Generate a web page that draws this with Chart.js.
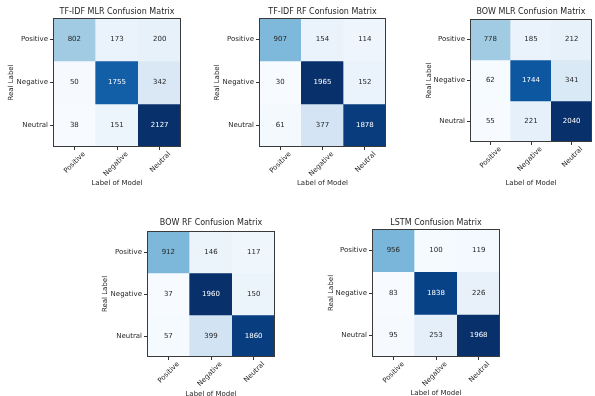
<!DOCTYPE html>
<html>
<head>
<meta charset="utf-8">
<script src="https://cdn.jsdelivr.net/npm/chart.js@4.4.1/dist/chart.umd.min.js"></script>
<style>
  html, body { margin: 0; padding: 0; background: #fff; overflow: hidden; width: 595px; height: 396px; position: relative; }
  canvas { position: absolute; }
</style>
</head>
<body>
<script>
// Class names shared by both axes
const classLabels = ['Positive', 'Negative', 'Neutral'];
const xAxisTitle = 'Label of Model';
const yAxisTitle = 'Real Label';

// Confusion matrices: rows = real label, columns = predicted label
const tfidfMlr = [[802, 173, 200], [50, 1755, 342], [38, 151, 2127]];
const tfidfRf  = [[907, 154, 114], [30, 1965, 152], [61, 377, 1878]];
const bowMlr   = [[778, 185, 212], [62, 1744, 341], [55, 221, 2040]];
const bowRf    = [[912, 146, 117], [37, 1960, 150], [57, 399, 1860]];
const lstm     = [[956, 100, 119], [83, 1838, 226], [95, 253, 1968]];

const panelTitles = [
  'TF-IDF MLR Confusion Matrix',
  'TF-IDF RF Confusion Matrix',
  'BOW MLR Confusion Matrix',
  'BOW RF Confusion Matrix',
  'LSTM Confusion Matrix'
];
const matrices = [tfidfMlr, tfidfRf, bowMlr, bowRf, lstm];

// Page layout of each panel: canvas rect [x, y, w, h], plot box [left, top, right, bottom],
// and the centre lines of the panel title and both axis titles.
const layout = [
  { canvas: [0, 0, 195, 200],    box: [53, 18, 181, 147],   titleY: 11.7, xTitleY: 183, yTitleX: 11 },
  { canvas: [200, 0, 195, 200],  box: [259, 18, 386, 147],  titleY: 11.7, xTitleY: 183, yTitleX: 217 },
  { canvas: [405, 0, 190, 200],  box: [470, 19, 592, 142],  titleY: 11.7, xTitleY: 183, yTitleX: 429 },
  { canvas: [80, 205, 210, 200], box: [147, 231, 275, 357], titleY: 223,  xTitleY: 394, yTitleX: 105 },
  { canvas: [300, 205, 210, 200],box: [372, 229, 500, 357], titleY: 223,  xTitleY: 393, yTitleX: 331 }
];

const FONT = '"DejaVu Sans", sans-serif';
const TEXT = '#262626';
Chart.defaults.font.family = FONT;
Chart.defaults.color = TEXT;

// matplotlib "Blues" colour map
const BLUES = [
  [247, 251, 255], [222, 235, 247], [198, 219, 239], [158, 202, 225], [107, 174, 214],
  [66, 146, 198], [33, 113, 181], [8, 81, 156], [8, 48, 107]
];
function blues(t) {
  t = Math.min(1, Math.max(0, t));
  const p = t * (BLUES.length - 1);
  const i = Math.min(BLUES.length - 2, Math.floor(p));
  const f = p - i;
  const a = BLUES[i], b = BLUES[i + 1];
  return 'rgb(' + a.map((v, k) => Math.round(v + (b[k] - v) * f)).join(',') + ')';
}

// Rotated x labels are centred on their tick: shift by half their slanted width
const measure = document.createElement('canvas').getContext('2d');
measure.font = '7px ' + FONT;
const meanLabelWidth = classLabels.reduce((s, l) => s + measure.measureText(l).width, 0) / classLabels.length;
const xLabelShift = meanLabelWidth * Math.SQRT1_2 / 2;

// Writes each count in the centre of its cell
const cellText = {
  id: 'cellText',
  afterDatasetsDraw(chart) {
    const { ctx, scales: { x, y } } = chart;
    ctx.save();
    ctx.font = '7px ' + FONT;
    ctx.textAlign = 'center';
    ctx.textBaseline = 'middle';
    chart.data.datasets.forEach((ds, r) => {
      ds.counts.forEach((v, c) => {
        ctx.fillStyle = v > ds.threshold ? '#ffffff' : TEXT;
        ctx.fillText(String(v), x.getPixelForValue(c), y.getPixelForValue(r));
      });
    });
    ctx.restore();
  }
};

// Spines on all four sides of the plot box
const frame = {
  id: 'frame',
  afterDraw(chart) {
    const { ctx, chartArea: a } = chart;
    ctx.save();
    ctx.strokeStyle = '#3a3a3a';
    ctx.lineWidth = 1;
    ctx.strokeRect(a.left + 0.5, a.top + 0.5, a.right - a.left - 1, a.bottom - a.top - 1);
    ctx.restore();
  }
};

function drawPanel(title, matrix, geo) {
  const [cx, cy, cw, ch] = geo.canvas;
  const [L, T, R, B] = geo.box;
  const canvas = document.createElement('canvas');
  canvas.width = cw;
  canvas.height = ch;
  canvas.style.left = cx + 'px';
  canvas.style.top = cy + 'px';
  document.body.appendChild(canvas);

  const flat = matrix.flat();
  const lo = Math.min(...flat), hi = Math.max(...flat);
  const threshold = hi / 2;

  // One floating-bar dataset per real-label row; each bar fills one cell
  const datasets = matrix.map((row, r) => ({
    label: classLabels[r],
    data: row.map(() => [r - 0.5, r + 0.5]),
    counts: row,
    threshold,
    backgroundColor: row.map(v => blues((v - lo) / (hi - lo))),
    borderWidth: 0,
    grouped: false,
    barPercentage: 1,
    categoryPercentage: 1
  }));

  const tickGrid = { display: true, offset: false, drawOnChartArea: false, drawTicks: true, tickLength: 3, color: '#333' };

  new Chart(canvas, {
    type: 'bar',
    data: { labels: classLabels, datasets },
    options: {
      responsive: false,
      animation: false,
      events: [],
      layout: { padding: { left: 0, top: 0, right: cw - (R - cx), bottom: 0 } },
      plugins: {
        legend: { display: false },
        tooltip: { enabled: false },
        title: {
          display: true,
          text: title,
          fullSize: false,
          color: TEXT,
          font: { size: 8, weight: 'normal' },
          padding: { top: geo.titleY - cy - 4.8, bottom: T - geo.titleY - 4.8 }
        }
      },
      scales: {
        x: {
          type: 'category',
          offset: true,
          grid: tickGrid,
          border: { display: false },
          ticks: {
            autoSkip: false, minRotation: 45, maxRotation: 45, padding: 0,
            labelOffset: xLabelShift, color: TEXT, font: { size: 7 }
          },
          title: {
            display: true, text: xAxisTitle, color: TEXT, font: { size: 7 },
            padding: { top: 0, bottom: ch - (geo.xTitleY - cy) - 4.2 }
          },
          afterFit(s) { s.height = ch - (B - cy); }
        },
        y: {
          type: 'linear',
          min: -0.5,
          max: 2.5,
          reverse: true,
          grid: tickGrid,
          border: { display: false },
          afterBuildTicks(s) { s.ticks = classLabels.map((_, i) => ({ value: i })); },
          ticks: { padding: 2, color: TEXT, font: { size: 7 }, callback: v => classLabels[v] },
          title: {
            display: true, text: yAxisTitle, color: TEXT, font: { size: 7 },
            padding: { top: geo.yTitleX - cx - 4.2, bottom: 0 }
          },
          afterFit(s) { s.width = L - cx; }
        }
      }
    },
    plugins: [cellText, frame]
  });
}

panelTitles.forEach((t, i) => drawPanel(t, matrices[i], layout[i]));
</script>
</body>
</html>
